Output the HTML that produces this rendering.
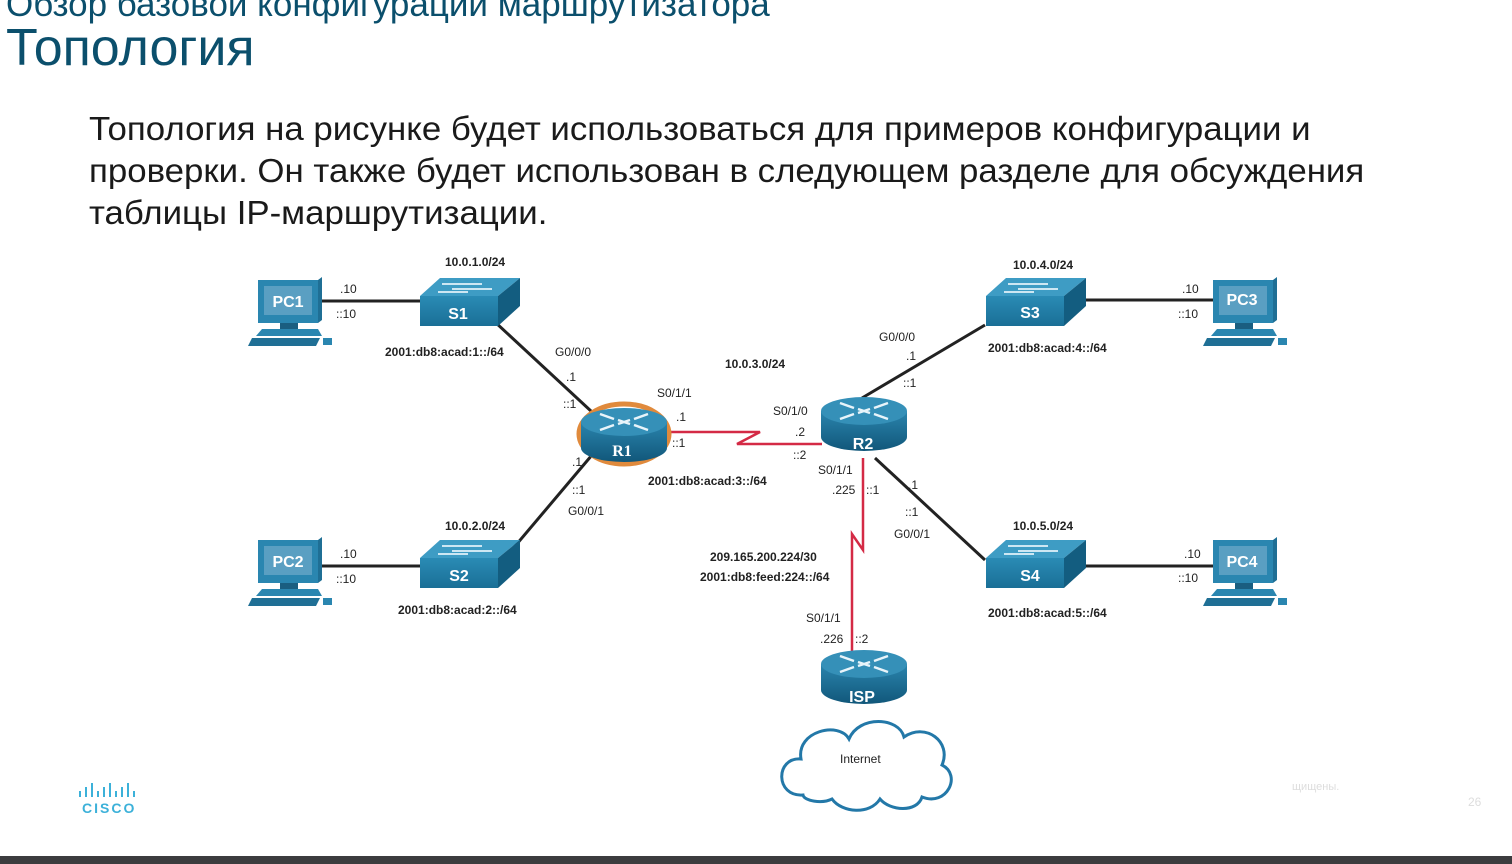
<!DOCTYPE html>
<html><head><meta charset="utf-8"><style>
html,body{margin:0;padding:0;width:1512px;height:864px;overflow:hidden;background:#fff;font-family:"Liberation Sans",sans-serif}
.h1{position:absolute;left:6px;top:-15px;font-size:35px;color:#0b4f6c;white-space:nowrap}
.h2{position:absolute;left:6px;top:18px;font-size:52px;color:#0b4f6c;white-space:nowrap}
.body{position:absolute;left:89px;top:108px;font-size:33px;line-height:42px;color:#1a1a1a;white-space:nowrap;transform:scaleX(1.055);transform-origin:0 0}
.bar{position:absolute;left:0;top:856px;width:1512px;height:8px;background:#3c3c3e}
svg{position:absolute;left:0;top:0}
</style></head><body>
<div class="h1">Обзор базовой конфигурации маршрутизатора</div>
<div class="h2">Топология</div>
<div class="body">Топология на рисунке будет использоваться для примеров конфигурации и<br>проверки. Он также будет использован в следующем разделе для обсуждения<br>таблицы IP-маршрутизации.</div>
<svg width="1512" height="864" viewBox="0 0 1512 864">
<defs>
<linearGradient id="sw" x1="0" y1="0" x2="0" y2="1"><stop offset="0" stop-color="#2a8bb5"/><stop offset="1" stop-color="#1a6f96"/></linearGradient>
<linearGradient id="rt" x1="0" y1="0" x2="0" y2="1"><stop offset="0" stop-color="#2a84ad"/><stop offset="1" stop-color="#11577a"/></linearGradient>
<g id="pc">
<polygon points="0,0 60,0 64,-3 64,40 60,43 0,43" fill="#1f6f95"/>
<rect x="0" y="0" width="60" height="43" fill="#2a86b0"/>
<rect x="6" y="6" width="48" height="29" fill="#5a9fc2"/>
<rect x="22" y="43" width="18" height="6" fill="#1a5e80"/>
<polygon points="4,49 60,49 64,56 -2,56" fill="#2a86b0"/>
<polygon points="-6,58 62,58 58,66 -10,66" fill="#1f6f95"/>
<rect x="65" y="58" width="9" height="7" fill="#2a86b0"/>
</g>
<g id="swt">
<polygon points="0,18 20,0 100,0 78,18" fill="#3e9cc4"/>
<rect x="0" y="18" width="78" height="30" fill="url(#sw)"/>
<polygon points="78,18 100,0 100,28 78,48" fill="#135d80"/>
<path d="M22,6 h40 M32,11 h40 M18,14 h30" stroke="#cde7f3" stroke-width="2"/>
</g>
<g id="rtr">
<path d="M-43,0 v26 a43,14 0 0 0 86,0 v-26 z" fill="url(#rt)"/>
<ellipse cx="0" cy="0" rx="43" ry="14" fill="#3590b8"/>
<path d="M-24,-8 l14,5 M-24,8 l14,-5 M24,-8 l-14,5 M24,8 l-14,-5 M-6,-2 l12,4 M-6,2 l12,-4" stroke="#e8f4fa" stroke-width="2.5"/>
</g>
</defs>
<g stroke="#222" stroke-width="3" fill="none">
<line x1="318" y1="301" x2="420" y2="301"/>
<line x1="318" y1="566" x2="420" y2="566"/>
<line x1="1086" y1="300" x2="1213" y2="300"/>
<line x1="1086" y1="566" x2="1213" y2="566"/>
<line x1="495" y1="322" x2="592" y2="412"/>
<line x1="592" y1="455" x2="505" y2="558"/>
<line x1="862" y1="398" x2="985" y2="325"/>
<line x1="875" y1="458" x2="985" y2="560"/>
</g>
<g stroke="#d42a45" stroke-width="2.5" fill="none">
<polyline points="665,432 760,432 737,444 822,444"/>
<polyline points="863,458 863,550 852,534 852,652"/>
</g>
<use href="#pc" x="258" y="280"/>
<use href="#pc" x="258" y="540"/>
<use href="#pc" x="1213" y="280"/>
<use href="#pc" x="1213" y="540"/>
<use href="#swt" x="420" y="278"/>
<use href="#swt" x="420" y="540"/>
<use href="#swt" x="986" y="278"/>
<use href="#swt" x="986" y="540"/>
<ellipse cx="624" cy="434" rx="45" ry="30" fill="none" stroke="#e08a3c" stroke-width="5"/>
<use href="#rtr" x="624" y="422"/>
<use href="#rtr" x="864" y="411"/>
<use href="#rtr" x="864" y="664"/>
<path d="M803,795 c-28,2 -28,-38 -2,-36 c-5,-28 38,-38 48,-20 c10,-24 50,-22 55,-2 c22,-15 48,5 38,28 c20,10 5,42 -20,32 c-5,16 -32,14 -42,2 c-10,16 -38,14 -48,0 c-10,5 -28,2 -29,-4 z" fill="#fff" stroke="#2378a8" stroke-width="3"/>
<g font-family="Liberation Sans,sans-serif" font-weight="bold" fill="#fff" font-size="16" text-anchor="middle">
<text x="288" y="307">PC1</text><text x="288" y="567">PC2</text>
<text x="1242" y="305">PC3</text><text x="1242" y="567">PC4</text>
<text x="458" y="319">S1</text><text x="459" y="581">S2</text>
<text x="1030" y="318">S3</text><text x="1030" y="581">S4</text>
<text x="622" y="456" font-family="Liberation Serif,serif">R1</text>
<text x="863" y="449">R2</text><text x="862" y="702">ISP</text>
</g>
<g font-family="Liberation Sans,sans-serif" font-size="12" fill="#222">
<g font-weight="bold">
<text x="445" y="266">10.0.1.0/24</text>
<text x="385" y="356">2001:db8:acad:1::/64</text>
<text x="445" y="530">10.0.2.0/24</text>
<text x="398" y="614">2001:db8:acad:2::/64</text>
<text x="1013" y="269">10.0.4.0/24</text>
<text x="988" y="352">2001:db8:acad:4::/64</text>
<text x="1013" y="530">10.0.5.0/24</text>
<text x="988" y="617">2001:db8:acad:5::/64</text>
<text x="725" y="368">10.0.3.0/24</text>
<text x="648" y="485">2001:db8:acad:3::/64</text>
<text x="710" y="561">209.165.200.224/30</text>
<text x="700" y="581">2001:db8:feed:224::/64</text>
</g>
<text x="340" y="293">.10</text><text x="336" y="318">::10</text>
<text x="340" y="558">.10</text><text x="336" y="583">::10</text>
<text x="1182" y="293">.10</text><text x="1178" y="318">::10</text>
<text x="1184" y="558">.10</text><text x="1178" y="582">::10</text>
<text x="555" y="356">G0/0/0</text><text x="566" y="381">.1</text><text x="563" y="408">::1</text>
<text x="572" y="466">.1</text><text x="572" y="494">::1</text><text x="568" y="515">G0/0/1</text>
<text x="657" y="397">S0/1/1</text><text x="676" y="421">.1</text><text x="672" y="447">::1</text>
<text x="773" y="415">S0/1/0</text><text x="795" y="436">.2</text><text x="793" y="459">::2</text>
<text x="879" y="341">G0/0/0</text><text x="906" y="360">.1</text><text x="903" y="387">::1</text>
<text x="818" y="474">S0/1/1</text><text x="832" y="494">.225</text><text x="866" y="494">::1</text>
<text x="908" y="489">.1</text><text x="905" y="516">::1</text><text x="894" y="538">G0/0/1</text>
<text x="806" y="622">S0/1/1</text><text x="820" y="643">.226</text><text x="855" y="643">::2</text>
<text x="840" y="763">Internet</text>
</g>
<g stroke="#3cb1d9" stroke-width="2">
<path d="M80,791v6M86,787v10M92,783v14M98,791v6M104,787v10M110,783v14M116,791v6M122,787v10M128,783v14M134,791v6"/>
</g>
<text x="82" y="813" font-family="Liberation Sans,sans-serif" font-weight="bold" font-size="14" fill="#3cb1d9" letter-spacing="2">CISCO</text>
<text x="1292" y="790" font-family="Liberation Sans,sans-serif" font-size="11" fill="#ddd">щищены.</text>
<text x="1468" y="806" font-family="Liberation Sans,sans-serif" font-size="12" fill="#ddd">26</text>
</svg>
<div class="bar"></div>
</body></html>
